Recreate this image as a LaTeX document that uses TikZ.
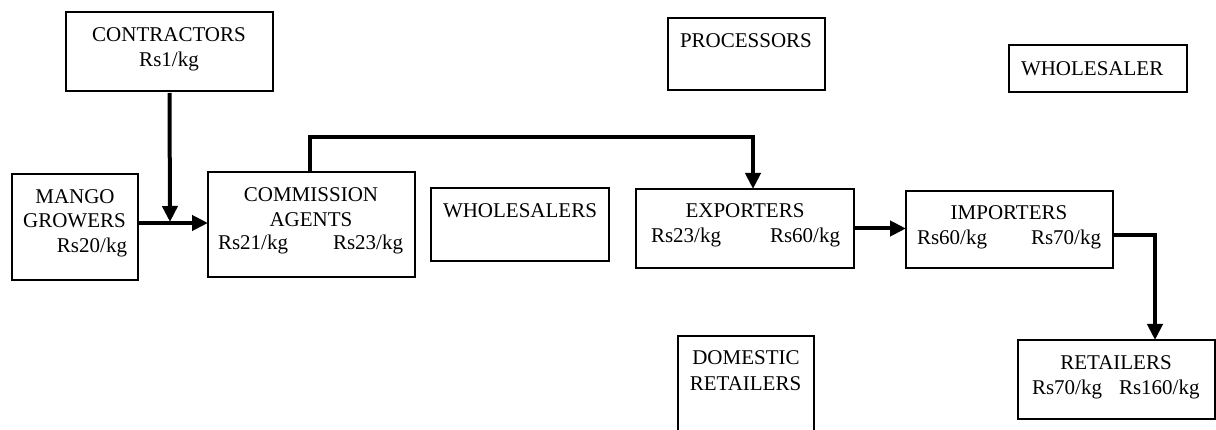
\documentclass[tikz,border=0pt]{standalone}
\usepackage{fontspec}
\setmainfont{Liberation Serif}
\usetikzlibrary{arrows.meta}

\tikzset{
  box/.style={draw=black, line width=2pt, rectangle, inner sep=0pt, outer sep=0pt, anchor=north west},
  lbl/.style={inner sep=0pt, outer sep=0pt, font=\fontsize{21}{25}\selectfont, anchor=base},
  lblw/.style={lbl, anchor=base west},
  lble/.style={lbl, anchor=base east},
  flow/.style={draw=black, line width=4pt, -{Triangle[length=16pt,width=15pt]}},
}

\begin{document}
\begin{tikzpicture}[x=1pt, y=-1pt]
  \useasboundingbox (0,0) rectangle (1216,430);
  \clip (0,0) rectangle (1216,430);

  % boxes
  \node[box, minimum width=207pt, minimum height=79pt]  (con) at (66,12)   {};
  \node[box, minimum width=126pt, minimum height=106pt] (mg)  at (12,174)  {};
  \node[box, minimum width=207pt, minimum height=105pt] (ca)  at (208,172) {};
  \node[box, minimum width=178pt, minimum height=73pt]  (ws)  at (431,188) {};
  \node[box, minimum width=157pt, minimum height=72pt]  (pr)  at (668,18)  {};
  \node[box, minimum width=218pt, minimum height=79pt]  (ex)  at (636,189) {};
  \node[box, minimum width=207pt, minimum height=77pt]  (im)  at (906,191) {};
  \node[box, minimum width=197pt, minimum height=79pt]  (re)  at (1018,340) {};
  \node[box, minimum width=178pt, minimum height=47pt]  (wsr) at (1009,45) {};
  \node[box, minimum width=136pt, minimum height=110pt] (dom) at (678,336) {};

  % labels
  \node[lbl]  (con-1) at (169,42)  {CONTRACTORS};
  \node[lbl]  (con-2) at (169,67)  {Rs1/kg};

  \node[lbl]  (mg-1)  at (75,204)  {MANGO};
  \node[lbl]  (mg-2)  at (74.5,228) {GROWERS};
  \node[lble] (mg-3)  at (127,253) {Rs20/kg};

  \node[lbl]  (ca-1)  at (311,202) {COMMISSION};
  \node[lbl]  (ca-2)  at (311,227) {AGENTS};
  \node[lblw] (ca-3)  at (218,250) {Rs21/kg};
  \node[lblw] (ca-4)  at (333,250) {Rs23/kg};

  \node[lblw] (ws-1)  at (443,218) {WHOLESALERS};
  \node[lblw] (pr-1)  at (680,48)  {PROCESSORS};

  \node[lbl]  (ex-1)  at (745,218) {EXPORTERS};
  \node[lblw] (ex-2)  at (651,243) {Rs23/kg};
  \node[lblw] (ex-3)  at (770,243) {Rs60/kg};

  \node[lbl]  (im-1)  at (1009,220) {IMPORTERS};
  \node[lblw] (im-2)  at (917,245) {Rs60/kg};
  \node[lblw] (im-3)  at (1031,245) {Rs70/kg};

  \node[lbl]  (re-1)  at (1116,370) {RETAILERS};
  \node[lblw] (re-2)  at (1032,395) {Rs70/kg};
  \node[lblw] (re-3)  at (1119,395) {Rs160/kg};

  \node[lbl]  (dom-1) at (746,365) {DOMESTIC};
  \node[lbl]  (dom-2) at (745.5,390) {RETAILERS};

  \node[lblw] (wsr-1) at (1021,76) {WHOLESALER};

  % connectors
  \coordinate (join) at (170,223);
  \coordinate (top)  at (753,137);

  \draw[flow, shorten >=1pt] ([yshift=-2pt]con.south) -- (join);
  \draw[flow] (mg.east |- join) -- (ca.west |- join);
  \draw[flow] ([xshift=-1.5pt]ca.north) |- (top) -- (top |- ex.north);
  \draw[flow] (ex.east) -- (ex.east -| im.west);
  \draw[flow] ([yshift=-5.5pt]im.east) -| ([xshift=38.5pt]re.north);
\end{tikzpicture}
\end{document}
